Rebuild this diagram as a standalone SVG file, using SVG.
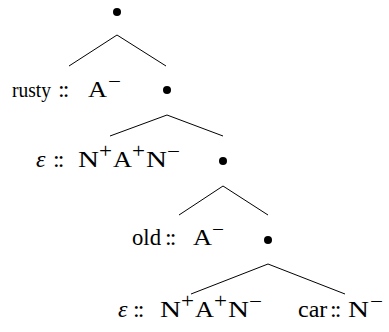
<svg xmlns="http://www.w3.org/2000/svg" width="389" height="332" viewBox="0 0 389 332">
<style>
text{font-family:"Liberation Serif","Times New Roman",serif;font-size:24px;fill:#000}
.sup{font-size:20px}
.e{font-style:italic}
.c{letter-spacing:-2px}
.w{font-size:21px}
line{stroke:#000;stroke-width:1}
circle{fill:#000}
</style>
<rect width="389" height="332" fill="#fff"/>
<g id="connectors">
<line x1="117" y1="35" x2="69" y2="66"/>
<line x1="117" y1="35" x2="166" y2="66"/>
<line x1="167" y1="115" x2="110" y2="136"/>
<line x1="167" y1="115" x2="223" y2="136"/>
<line x1="223" y1="186" x2="179" y2="215"/>
<line x1="223" y1="186" x2="268" y2="215"/>
<line x1="268" y1="264" x2="191" y2="294"/>
<line x1="268" y1="264" x2="345" y2="294"/>
</g>
<g id="n1"><circle cx="117" cy="12" r="4"/></g>
<g id="n2"><text class="w" x="12" y="97" textLength="39" lengthAdjust="spacingAndGlyphs" transform="translate(0,0)">rusty</text><text y="97"><tspan class="c" x="58">::</tspan><tspan x="88" textLength="19" lengthAdjust="spacingAndGlyphs">A</tspan><tspan class="sup" x="108" y="88" textLength="13" lengthAdjust="spacingAndGlyphs">−</tspan></text></g>
<g id="n3"><circle cx="167" cy="90" r="4"/></g>
<g id="n4"><text y="167"><tspan class="e" x="36">ε</tspan><tspan class="c" x="53">::</tspan><tspan x="78" textLength="21" lengthAdjust="spacingAndGlyphs">N</tspan><tspan class="sup" x="99" y="158" textLength="13" lengthAdjust="spacingAndGlyphs">+</tspan><tspan x="113" y="167" textLength="19" lengthAdjust="spacingAndGlyphs">A</tspan><tspan class="sup" x="132" y="158" textLength="13" lengthAdjust="spacingAndGlyphs">+</tspan><tspan x="146" y="167" textLength="21" lengthAdjust="spacingAndGlyphs">N</tspan><tspan class="sup" x="167" y="158" textLength="13" lengthAdjust="spacingAndGlyphs">−</tspan></text></g>
<g id="n5"><circle cx="223" cy="161" r="4"/></g>
<g id="n6"><text x="132" y="245" textLength="29" lengthAdjust="spacingAndGlyphs">old</text><text y="245"><tspan class="c" x="165">::</tspan><tspan x="193" textLength="19" lengthAdjust="spacingAndGlyphs">A</tspan><tspan class="sup" x="212" y="236" textLength="12" lengthAdjust="spacingAndGlyphs">−</tspan></text></g>
<g id="n7"><circle cx="268" cy="240" r="4"/></g>
<g id="n8"><text y="317"><tspan class="e" x="118">ε</tspan><tspan class="c" x="133">::</tspan><tspan x="160" textLength="21" lengthAdjust="spacingAndGlyphs">N</tspan><tspan class="sup" x="181" y="308" textLength="13" lengthAdjust="spacingAndGlyphs">+</tspan><tspan x="195" y="317" textLength="19" lengthAdjust="spacingAndGlyphs">A</tspan><tspan class="sup" x="214" y="308" textLength="13" lengthAdjust="spacingAndGlyphs">+</tspan><tspan x="228" y="317" textLength="21" lengthAdjust="spacingAndGlyphs">N</tspan><tspan class="sup" x="249" y="308" textLength="13" lengthAdjust="spacingAndGlyphs">−</tspan></text></g>
<g id="n9"><text x="298" y="317">car</text><text y="317"><tspan class="c" x="330">::</tspan><tspan x="348" textLength="21" lengthAdjust="spacingAndGlyphs">N</tspan><tspan class="sup" x="370" y="308" textLength="13" lengthAdjust="spacingAndGlyphs">−</tspan></text></g>
</svg>
